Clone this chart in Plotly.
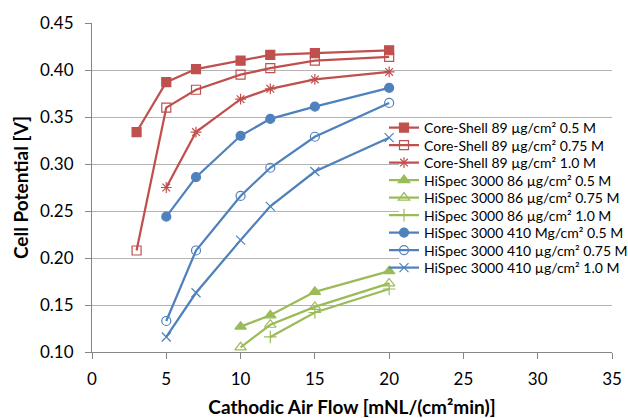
import plotly.graph_objects as go

RED = "#C0504D"
GREEN = "#9BBB59"
BLUE = "#4F81BD"

cs_x = [3, 5, 7, 10, 12, 15, 20]
cs_05 = [0.334, 0.387, 0.401, 0.410, 0.416, 0.418, 0.421]
cs_075 = [0.208, 0.360, 0.379, 0.395, 0.402, 0.410, 0.414]
cs_10_x = [5, 7, 10, 12, 15, 20]
cs_10 = [0.275, 0.334, 0.369, 0.380, 0.390, 0.398]

h86_x = [10, 12, 15, 20]
h86_05 = [0.127, 0.139, 0.164, 0.186]
h86_075 = [0.105, 0.129, 0.148, 0.173]
h86_10_x = [12, 15, 20]
h86_10 = [0.116, 0.142, 0.167]

h410_x = [5, 7, 10, 12, 15, 20]
h410_05 = [0.244, 0.286, 0.330, 0.348, 0.361, 0.381]
h410_075 = [0.133, 0.208, 0.266, 0.296, 0.329, 0.365]
h410_10 = [0.116, 0.163, 0.219, 0.255, 0.292, 0.328]

series = [
    ("Core-Shell 89 µg/cm² 0.5 M", cs_x, cs_05, RED, "square", 9),
    ("Core-Shell 89 µg/cm² 0.75 M", cs_x, cs_075, RED, "square-open", 9),
    ("Core-Shell 89 µg/cm² 1.0 M", cs_10_x, cs_10, RED, "asterisk-open", 9),
    ("HiSpec 3000 86 µg/cm² 0.5 M", h86_x, h86_05, GREEN, "triangle-up", 10),
    ("HiSpec 3000 86 µg/cm² 0.75 M", h86_x, h86_075, GREEN, "triangle-up-open", 10),
    ("HiSpec 3000 86 µg/cm² 1.0 M", h86_10_x, h86_10, GREEN, "cross-thin-open", 9),
    ("HiSpec 3000 410 Mg/cm² 0.5 M", h410_x, h410_05, BLUE, "circle", 9),
    ("HiSpec 3000 410 µg/cm² 0.75 M", h410_x, h410_075, BLUE, "circle-open", 9),
    ("HiSpec 3000 410 µg/cm² 1.0 M", h410_x, h410_10, BLUE, "x-thin-open", 9),
]

FONT = "Lato, Carlito, Calibri, sans-serif"
W, H = 628, 418
ML, MR, MT, MB = 92, 16, 23, 66
PW = W - ML - MR
PH = H - MT - MB

fig = go.Figure()
legend_layout = {}
for i, (name, xs, ys, col, sym, sz) in enumerate(series):
    key = "legend" if i == 0 else f"legend{i + 1}"
    fig.add_trace(go.Scatter(
        x=xs, y=ys, name=name, mode="lines+markers", legend=key,
        line=dict(color=col, width=2.25),
        marker=dict(symbol=sym, size=sz, color=col, line=dict(color=col, width=1.2)),
    ))
    center_px = 128 + 17.5 * i
    legend_layout[key] = dict(
        x=(384 - ML) / PW, y=(H - MB - center_px) / PH,
        xanchor="left", yanchor="middle",
        bgcolor="rgba(0,0,0,0)", borderwidth=0,
        font=dict(family=FONT, size=14, color="#000000"),
        itemwidth=30,
    )

# white panel behind the legend, covering the gridlines like the original
fig.add_shape(
    type="rect", xref="paper", yref="paper", layer="above",
    x0=(399 - ML) / PW, x1=(W - ML) / PW,
    y0=(H - MB - 292) / PH, y1=(H - MB - 118) / PH,
    fillcolor="white", line=dict(width=0),
)

fig.update_layout(
    width=W, height=H,
    margin=dict(l=ML, r=MR, t=MT, b=MB, autoexpand=False),
    plot_bgcolor="white", paper_bgcolor="white",
    font=dict(family=FONT, size=17, color="#000000"),
    showlegend=True,
    xaxis=dict(
        range=[0, 35], tick0=0, dtick=5, showgrid=False, zeroline=False,
        showline=True, linecolor="#868686", linewidth=1,
        ticks="outside", tickcolor="#868686", ticklen=6, ticklabelstandoff=6,
        tickformat="d",
        title=dict(text="<b>Cathodic Air Flow [mNL/(cm²min)]</b>", font=dict(size=19), standoff=12),
    ),
    yaxis=dict(
        range=[0.10, 0.45], tick0=0.10, dtick=0.05, tickformat=".2f",
        showgrid=True, gridcolor="#B3B3B3", gridwidth=1, zeroline=False,
        showline=True, linecolor="#868686", linewidth=1,
        ticks="outside", tickcolor="#868686", ticklen=6, ticklabelstandoff=8,
        title=dict(text="<b>Cell Potential [V]</b>", font=dict(size=19), standoff=6),
    ),
    **legend_layout,
)
fig.write_html("out.html")
